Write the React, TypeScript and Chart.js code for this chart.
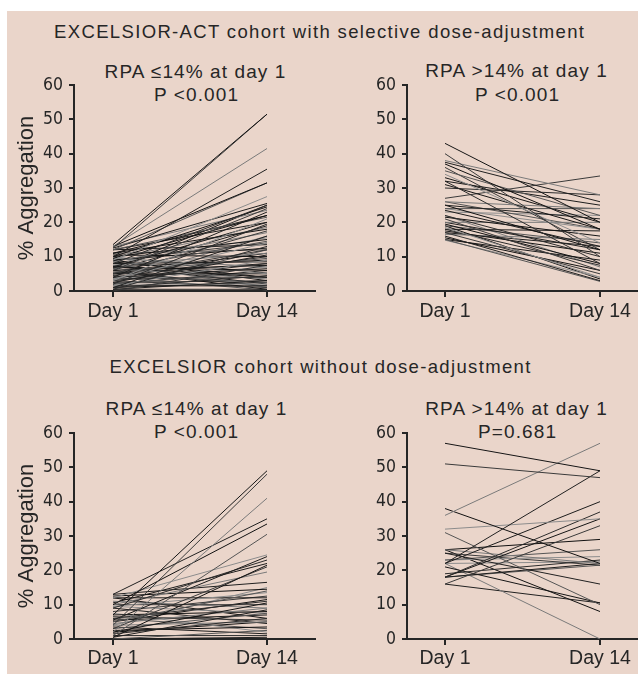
import React, { useEffect, useRef } from 'react';
import { Chart, registerables } from 'chart.js';

Chart.register(...registerables);

// ---------- data ----------
const dayLabels = ['Day 1', 'Day 14'];

// EXCELSIOR-ACT, RPA <=14% at day 1
const actLowDay1 = [13.5, 12.5, 13, 10, 13, 12, 9, 12.5, 8, 10, 6, 13, 4, 9.5, 12, 3, 7, 2, 11, 5, 8.5, 1, 10, 6.5, 3.5, 12, 0.5, 9, 4.5, 7.5, 2.5, 10.5, 5.5, 1.5, 8, 3, 6, 0, 9.5, 4, 7, 2, 10, 5, 1, 8.5, 3.5, 6.5, 0.5, 9, 4.5, 2, 7.5, 5.5, 1.5, 3, 8, 0.5, 6, 4, 10, 7, 2, 5, 9, 3, 6, 11, 1, 8, 12, 4, 6.5, 2.5, 9.5, 5, 7, 11, 3.5, 1];
const actLowDay14 = [51.5, 51.5, 41.5, 35.5, 31.5, 31.5, 27.5, 25.5, 25, 24.5, 24, 23.5, 23, 22, 21.5, 21, 20, 19.5, 18, 17.5, 17, 16, 15, 14.5, 14, 13.5, 13, 12.5, 12, 11, 10.5, 10, 9.5, 9, 8.5, 8, 7.5, 7.5, 7, 6.5, 6, 5.5, 5, 5, 4.5, 4, 4, 3.5, 3, 3, 2.5, 2, 2, 1.5, 1.5, 1, 1, 0.5, 0.5, 0.3, 1, 9, 6, 11, 14, 16, 19, 22, 12, 15.5, 20, 10, 25, 3, 18.5, 8, 4, 12, 7, 2.5];

// EXCELSIOR-ACT, RPA >14% at day 1
const actHighDay1 = [43, 40, 38, 37.5, 37, 35, 34, 32, 32, 31, 27, 26, 25, 25, 24, 24, 23.5, 22, 21.5, 21, 20, 20, 19.5, 19, 18.5, 18, 18, 17.5, 17, 16.5, 16, 15.5, 15, 14.8, 15, 30, 33, 36, 22, 17, 19, 26, 23];
const actHighDay14 = [20, 10, 28, 26, 18, 22, 14, 25, 8, 18, 33.5, 24, 21, 12, 24, 18, 13, 10, 16, 6, 20, 12, 8, 14, 4, 17.5, 7.5, 11, 5, 15, 3, 6, 2.8, 4, 9, 28, 20, 12, 7, 13, 3.5, 18, 22];

// EXCELSIOR, RPA <=14% at day 1
const excLowDay1 = [7, 4, 2, 13, 10, 1, 12, 5.5, 9, 0.5, 3, 10, 13, 12.5, 5, 9.5, 12, 6, 2, 10, 4.5, 0.5, 7, 3, 9.5, 5.5, 1.5, 12, 6.5, 4, 9, 2.5, 0, 7.5, 3.5, 1, 5, 8, 11, 0, 2, 6, 4, 10.5];
const excLowDay14 = [49, 48, 41, 35, 33.5, 30.5, 24.5, 24, 23, 21.5, 21, 19.5, 16.5, 14.5, 14, 13.5, 12, 11, 10.5, 10, 9, 8.5, 8, 7.5, 7.5, 7, 6, 6, 5.5, 5, 4.5, 3.5, 2.5, 2, 1.5, 1, 11.5, 12.5, 9, 0.5, 5, 3, 15, 22];

// EXCELSIOR, RPA >14% at day 1
const excHighDay1 = [57, 51, 36, 22, 38, 31, 32, 22, 18, 18, 16, 26, 25, 26, 23, 23, 18, 19, 21, 25, 22, 16, 26, 18, 22];
const excHighDay14 = [49, 47, 57, 49, 22, 10, 35, 40, 37, 35, 33, 22, 16, 29, 26, 24, 22, 23, 10.5, 21.5, 0, 10.5, 8, 21.5, 22.5];

// ---------- style ----------
const FONT = "'Liberation Sans', Arial, Helvetica, sans-serif";
const NARROW = "'DejaVu Sans', 'Liberation Sans', sans-serif";
const INK = '#262626';
const BG = '#EAD5CA';
const lineShades = ['#151515', '#3a3a3a', '#7a7a7a', '#202020', '#111111', '#555555', '#8c8c8c', '#1c1c1c', '#2c2c2c'];

type PanelProps = {
  day1: number[];
  day14: number[];
  left: number;
  top: number;
  width: number;
  height: number;
  padLeft: number;
  padTop: number;
  padRight: number;
  yAxisWidth: number;
  xAxisHeight: number;
  xMin: number;
  xMax: number;
  showYTitle: boolean;
  tickPad: number;
};

function Panel(p: PanelProps) {
  const ref = useRef<HTMLCanvasElement>(null);
  useEffect(() => {
    if (!ref.current) return;
    const datasets = p.day1.map((v, i) => ({
      data: [
        { x: 0, y: v },
        { x: 1, y: p.day14[i] },
      ],
      borderColor: lineShades[i % lineShades.length],
      borderWidth: 1,
      pointRadius: 0,
      fill: false,
      tension: 0,
    }));
    const chart = new Chart(ref.current, {
      type: 'line',
      data: { datasets },
      options: {
        animation: false,
        responsive: false,
        devicePixelRatio: 1,
        events: [],
        layout: { padding: { left: p.padLeft, top: p.padTop, right: p.padRight, bottom: 0 } },
        plugins: {
          legend: { display: false },
          tooltip: { enabled: false },
          title: { display: false },
        },
        scales: {
          x: {
            type: 'linear',
            min: p.xMin,
            max: p.xMax,
            afterBuildTicks: (s: any) => {
              s.ticks = [{ value: 0 }, { value: 1 }];
            },
            afterFit: (s: any) => {
              s.height = p.xAxisHeight;
            },
            ticks: {
              callback: (_v: any, i: number) => dayLabels[i],
              color: INK,
              font: { family: FONT, size: 19.5 },
              padding: p.tickPad,
              autoSkip: false,
              maxRotation: 0,
            },
            grid: { drawOnChartArea: false, drawTicks: true, tickLength: 6, color: INK, lineWidth: 2 },
            border: { display: true, color: INK, width: 2 },
          },
          y: {
            type: 'linear',
            min: 0,
            max: 60,
            afterFit: (s: any) => {
              s.width = p.yAxisWidth;
            },
            ticks: {
              stepSize: 10,
              color: INK,
              font: { family: NARROW, size: 17.5, weight: 'condensed' },
              padding: 6,
            },
            grid: { drawOnChartArea: false, drawTicks: true, tickLength: 5, color: INK, lineWidth: 2 },
            border: { display: true, color: INK, width: 2 },
            title: {
              display: p.showYTitle,
              text: '% Aggregation',
              color: INK,
              font: { family: FONT, size: 22 },
              padding: { top: 4, bottom: 0 },
            },
          },
        },
      } as any,
    });
    return () => chart.destroy();
  }, []);
  return (
    <canvas
      ref={ref}
      width={p.width}
      height={p.height}
      style={{ position: 'absolute', left: p.left, top: p.top, width: p.width, height: p.height }}
    />
  );
}

function Label({ x, y, text, size, spacing }: { x: number; y: number; text: string; size: number; spacing: number }) {
  return (
    <div
      style={{
        position: 'absolute',
        left: x - 300,
        top: y - 15,
        width: 600,
        height: 30,
        lineHeight: '30px',
        textAlign: 'center',
        fontFamily: FONT,
        fontSize: size,
        letterSpacing: spacing,
        paddingLeft: spacing,
        boxSizing: 'border-box',
        color: INK,
        whiteSpace: 'nowrap',
      }}
    >
      {text}
    </div>
  );
}

export default function App() {
  const leftX = { min: -39 / 154, max: 1 + 48 / 154 };
  const rightX = { min: -38 / 155, max: 1 + 38 / 155 };
  return (
    <div
      style={{
        position: 'absolute',
        left: 0,
        top: 0,
        width: 638,
        height: 674,
        overflow: 'hidden',
        background: '#ffffff',
      }}
    >
      <div style={{ position: 'absolute', left: 7, top: 11, right: 0, bottom: 0, background: BG }} />

      <Label x={319} y={32} text="EXCELSIOR-ACT cohort with selective dose-adjustment" size={18.5} spacing={1.35} />
      <Label x={195} y={72} text="RPA ≤14% at day 1" size={19} spacing={1.1} />
      <Label x={196} y={95} text="P <0.001" size={19} spacing={1.1} />
      <Label x={516} y={71} text="RPA >14% at day 1" size={19} spacing={1.1} />
      <Label x={517} y={95} text="P <0.001" size={19} spacing={1.1} />

      <Label x={320} y={367} text="EXCELSIOR cohort without dose-adjustment" size={18.5} spacing={1.35} />
      <Label x={196} y={409} text="RPA ≤14% at day 1" size={19} spacing={1.1} />
      <Label x={196} y={432} text="P <0.001" size={19} spacing={1.1} />
      <Label x={516} y={409} text="RPA >14% at day 1" size={19} spacing={1.1} />
      <Label x={517} y={432} text="P=0.681" size={19} spacing={1.1} />

      <Panel day1={actLowDay1} day14={actLowDay14} left={0} top={40} width={318} height={290}
        padLeft={10} padTop={45} padRight={3} yAxisWidth={64} xAxisHeight={39}
        xMin={leftX.min} xMax={leftX.max} showYTitle={true} tickPad={3} />
      <Panel day1={actHighDay1} day14={actHighDay14} left={318} top={40} width={320} height={290}
        padLeft={25} padTop={45} padRight={0} yAxisWidth={64} xAxisHeight={39}
        xMin={rightX.min} xMax={rightX.max} showYTitle={false} tickPad={3} />
      <Panel day1={excLowDay1} day14={excLowDay14} left={0} top={388} width={318} height={286}
        padLeft={10} padTop={45} padRight={3} yAxisWidth={64} xAxisHeight={35}
        xMin={leftX.min} xMax={leftX.max} showYTitle={true} tickPad={2} />
      <Panel day1={excHighDay1} day14={excHighDay14} left={318} top={388} width={320} height={286}
        padLeft={25} padTop={45} padRight={0} yAxisWidth={64} xAxisHeight={35}
        xMin={rightX.min} xMax={rightX.max} showYTitle={false} tickPad={2} />
    </div>
  );
}
